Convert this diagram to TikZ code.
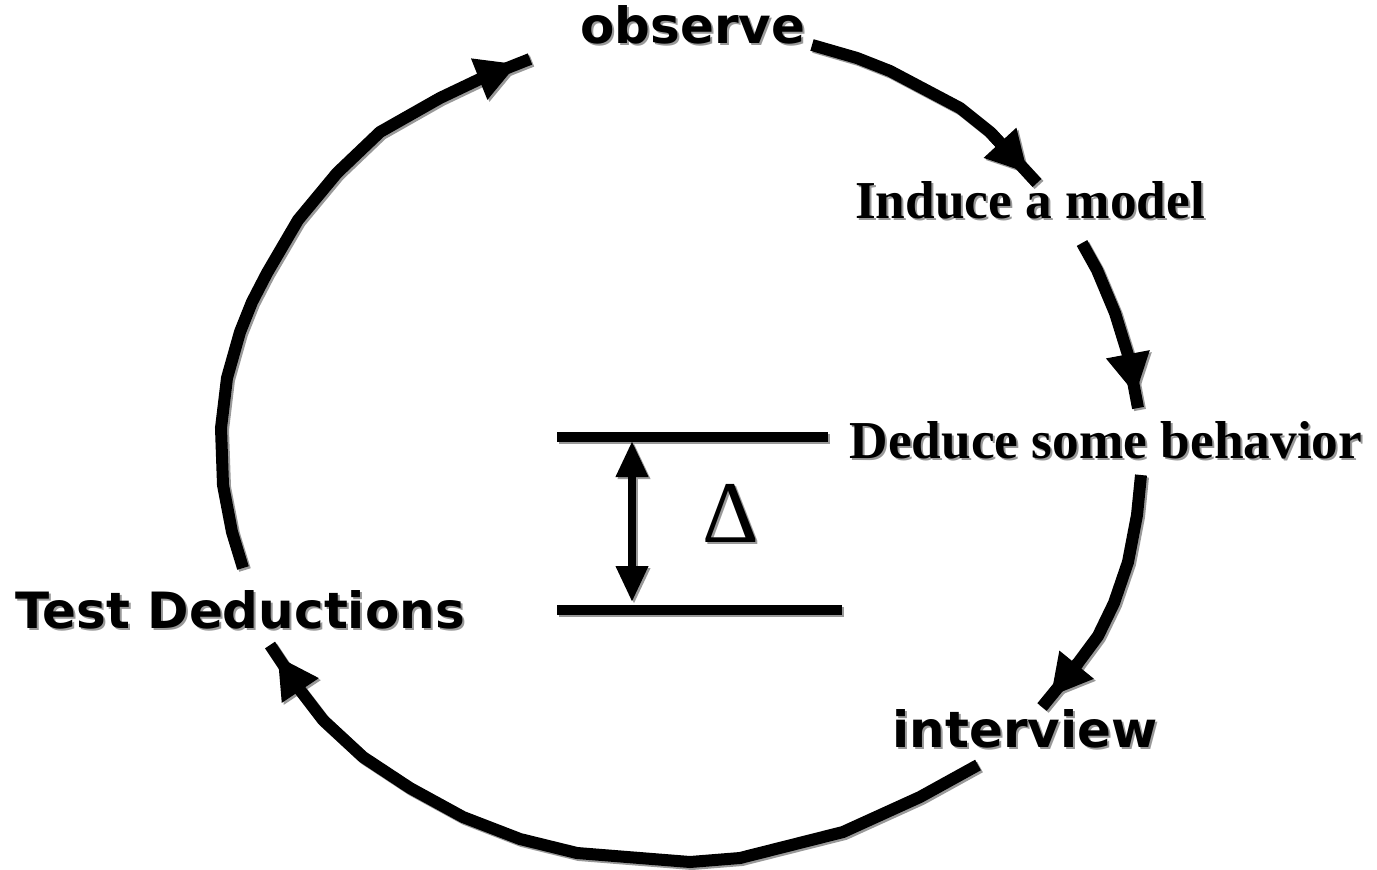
\documentclass[tikz,border=0pt]{standalone}
\usepackage{fontspec}
\setmainfont{Liberation Serif}
\newfontfamily\dvsans{DejaVu Sans}
\usetikzlibrary{arrows.meta}
\definecolor{shade}{gray}{0.6}
\tikzset{
  cyc/.style={line width=9pt, line join=miter, line cap=butt},
  cyctip/.style={line width=9pt, -{Triangle[length=31pt,width=31pt]}, shorten >=10pt},
  lbls/.style={font=\dvsans\bfseries\fontsize{37.5}{40}\selectfont, anchor=base, inner sep=0pt},
  lblr/.style={font=\bfseries\fontsize{40}{44}\selectfont, anchor=base, inner sep=0pt},
  lbld/.style={font=\fontsize{66}{70}\selectfont, anchor=base, inner sep=0pt},
  barline/.style={line width=7pt},
  gaparrow/.style={line width=6pt, {Triangle[length=27pt,width=23pt]}-{Triangle[length=27pt,width=23pt]}},
}
\newcommand\drawall{%
  \node[lbls] (obs) at (693,44) {observe};
  \node[lblr] (ind) at (1030,219) {Induce a model};
  \node[lblr] (ded) at (1106,458) {Deduce some behavior};
  \node[lbls] (tst) at (240,628) {Test Deductions};
  \node[lbls] (itv) at (1025,747) {interview};
  \node[lbld] (dlt) at (731,542) {Δ};
  % observe -> induce
  \draw[cyc] (a0) -- (857,58) -- (890,71) -- (960,108) -- (a1) -- (a2);
  \draw[cyctip] (a1) -- (a2);
  % induce -> deduce
  \draw[cyc] (b0) -- (1097,270) -- (1115,313) -- (b1) -- (b2);
  \draw[cyctip] (b1) -- (b2);
  % deduce -> interview
  \draw[cyc] (c0) -- (1137,515) -- (1128,562) -- (1114,603) -- (1098,636) -- (c1) -- (c2);
  \draw[cyctip] (c1) -- (c2);
  % interview -> test
  \draw[cyc] (d0) -- (920,797) -- (843,832) -- (740,858) -- (690,862) -- (577,853) -- (520,839) -- (463,817) -- (410,788) -- (363,757) -- (323,720) -- (d1) -- (d2);
  \draw[cyctip] (d1) -- (d2);
  % test -> observe
  \draw[cyc] (e0) -- (232,532) -- (223,485) -- (221,428) -- (227,378) -- (240,332) -- (252,302) -- (267,273) -- (298,220) -- (337,173) -- (380,132) -- (440,98) -- (e1) -- (e2);
  \draw[cyctip] (e1) -- (e2);
  % delta bars
  \draw[barline] (t0) -- (t1);
  \draw[barline] (u0) -- (u1);
  \draw[gaparrow] (g0) -- (g1);
}
\begin{document}
\begin{tikzpicture}[x=0.75pt,y=-0.75pt]
  \useasboundingbox (0,0) rectangle (1377,870);
  \coordinate (a0) at (812,45);
  \coordinate (a1) at (990,132);
  \coordinate (a2) at (1037,183);
  \coordinate (b0) at (1082,243);
  \coordinate (b1) at (1128,355);
  \coordinate (b2) at (1138,408);
  \coordinate (c0) at (1141,475);
  \coordinate (c1) at (1078,663);
  \coordinate (c2) at (1042,707);
  \coordinate (d0) at (978,765);
  \coordinate (d1) at (300,690);
  \coordinate (d2) at (270,645);
  \coordinate (e0) at (243,568);
  \coordinate (e1) at (482,78);
  \coordinate (e2) at (530,59);
  \coordinate (t0) at (557,437);
  \coordinate (t1) at (828,437);
  \coordinate (u0) at (557,610);
  \coordinate (u1) at (842,610);
  \coordinate (g0) at (632,441);
  \coordinate (g1) at (632,602);
  \begin{scope}[transform canvas={shift={(1.5pt,-1.5pt)}}, color=shade]
    \drawall
  \end{scope}
  \drawall
\end{tikzpicture}
\end{document}
